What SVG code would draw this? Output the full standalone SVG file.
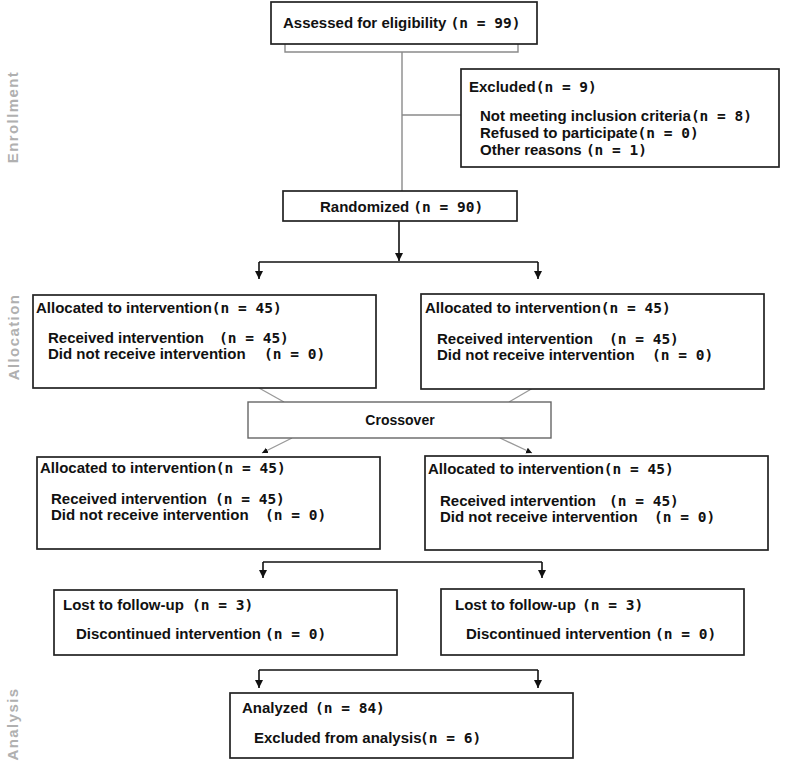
<svg xmlns="http://www.w3.org/2000/svg" width="787" height="762" viewBox="0 0 787 762">
<defs>
<style>
.box{fill:#fff;stroke:#222;stroke-width:1.7}
.xbox{fill:#fff;stroke:#666;stroke-width:1.4}
.t{font-family:"Liberation Sans",Arial,sans-serif;font-weight:bold;font-size:15px;fill:#111}
.m{font-family:"DejaVu Sans Mono","Liberation Mono",monospace;font-weight:bold;font-size:14.5px}
.side{font-family:"Liberation Sans",Arial,sans-serif;font-weight:bold;font-size:15px;fill:#b0b0b0;letter-spacing:1.4px}
.k{fill:none;stroke:#111;stroke-width:1.6}
.g{fill:none;stroke:#8a8a8a;stroke-width:1.4}
.cg{fill:none;stroke:#999;stroke-width:1.3}
</style>
<marker id="ah" markerUnits="userSpaceOnUse" markerWidth="9" markerHeight="9" refX="8" refY="4" orient="auto"><path d="M0,0 L8,4 L0,8 z" fill="#111"/></marker>
<marker id="ahs" markerUnits="userSpaceOnUse" markerWidth="8" markerHeight="8" refX="6" refY="3" orient="auto"><path d="M0,0 L6,3 L0,6 z" fill="#111"/></marker>
</defs>

<g id="side-labels">
<text class="side" transform="translate(17.5,117) rotate(-90)" text-anchor="middle">Enrollment</text>
<text class="side" transform="translate(18.5,337) rotate(-90)" text-anchor="middle">Allocation</text>
<text class="side" transform="translate(18,724) rotate(-90)" text-anchor="middle">Analysis</text>
</g>

<g id="connectors">
<path class="g" d="M285,44 V52 H518 V44"/>
<path class="g" d="M402,52 V191"/>
<path class="g" d="M402,115 H461"/>
<path class="k" d="M399,221 V261" marker-end="url(#ah)"/>
<path class="k" d="M259,262 H538"/>
<path class="k" d="M259,262 V279" marker-end="url(#ah)"/>
<path class="k" d="M538,262 V279" marker-end="url(#ah)"/>
<path class="cg" d="M259,388 L284,402"/>
<path class="cg" d="M533,388 L509,402"/>
<path class="cg" d="M292,438 L262,453" marker-end="url(#ahs)"/>
<path class="cg" d="M500,438 L532,453" marker-end="url(#ahs)"/>
<path class="k" d="M263,562 H542"/>
<path class="k" d="M263,562 V578" marker-end="url(#ah)"/>
<path class="k" d="M542,562 V578" marker-end="url(#ah)"/>
<path class="k" d="M259,670 H538"/>
<path class="k" d="M259,670 V688" marker-end="url(#ah)"/>
<path class="k" d="M538,670 V688" marker-end="url(#ah)"/>
</g>

<g id="assessed">
<rect class="box" x="271" y="2" width="266" height="42"/>
<text class="t" x="283" y="28">Assessed for eligibility <tspan class="m">(n = 99)</tspan></text>
</g>

<g id="excluded">
<rect class="box" x="461" y="69" width="318" height="98"/>
<text class="t" x="469" y="92">Excluded<tspan class="m">(n = 9)</tspan></text>
<text class="t" x="480" y="121">Not meeting inclusion criteria<tspan class="m">(n = 8)</tspan></text>
<text class="t" x="480" y="138">Refused to participate<tspan class="m">(n = 0)</tspan></text>
<text class="t" x="480" y="155">Other reasons <tspan class="m">(n = 1)</tspan></text>
</g>

<g id="randomized">
<rect class="box" x="283" y="191" width="234" height="30"/>
<text class="t" x="320" y="212">Randomized <tspan class="m">(n = 90)</tspan></text>
</g>

<g id="alloc-left">
<rect class="box" x="33" y="295" width="343" height="93"/>
<text class="t" x="36" y="313">Allocated to intervention<tspan class="m">(n = 45)</tspan></text>
<text class="t" x="48" y="343">Received intervention<tspan class="m" x="219">(n = 45)</tspan></text>
<text class="t" x="48" y="359">Did not receive intervention<tspan class="m" x="264">(n = 0)</tspan></text>
</g>

<g id="alloc-right">
<rect class="box" x="421" y="294" width="343" height="95"/>
<text class="t" x="425" y="313">Allocated to intervention<tspan class="m">(n = 45)</tspan></text>
<text class="t" x="437" y="344">Received intervention<tspan class="m" x="609">(n = 45)</tspan></text>
<text class="t" x="437" y="360">Did not receive intervention<tspan class="m" x="652">(n = 0)</tspan></text>
</g>

<g id="crossover">
<rect class="xbox" x="248" y="402" width="303" height="36"/>
<text class="t" x="400" y="425" text-anchor="middle" style="font-size:14px">Crossover</text>
</g>

<g id="alloc2-left">
<rect class="box" x="37" y="457" width="343" height="92"/>
<text class="t" x="40" y="473">Allocated to intervention<tspan class="m">(n = 45)</tspan></text>
<text class="t" x="51" y="504">Received intervention<tspan class="m" x="215">(n = 45)</tspan></text>
<text class="t" x="51" y="520">Did not receive intervention<tspan class="m" x="265">(n = 0)</tspan></text>
</g>

<g id="alloc2-right">
<rect class="box" x="425" y="456" width="343" height="94"/>
<text class="t" x="428" y="474">Allocated to intervention<tspan class="m">(n = 45)</tspan></text>
<text class="t" x="440" y="506">Received intervention<tspan class="m" x="609">(n = 45)</tspan></text>
<text class="t" x="440" y="522">Did not receive intervention<tspan class="m" x="654">(n = 0)</tspan></text>
</g>

<g id="lost-left">
<rect class="box" x="54" y="590" width="343" height="65"/>
<text class="t" x="63" y="610">Lost to follow-up<tspan class="m" x="192">(n = 3)</tspan></text>
<text class="t" x="76" y="639">Discontinued intervention<tspan class="m" x="265">(n = 0)</tspan></text>
</g>

<g id="lost-right">
<rect class="box" x="441" y="589" width="303" height="66"/>
<text class="t" x="455" y="610">Lost to follow-up<tspan class="m" x="582">(n = 3)</tspan></text>
<text class="t" x="466" y="639">Discontinued intervention<tspan class="m" x="655">(n = 0)</tspan></text>
</g>

<g id="analyzed">
<rect class="box" x="230" y="693" width="343" height="65"/>
<text class="t" x="242" y="713">Analyzed<tspan class="m" x="315">(n = 84)</tspan></text>
<text class="t" x="254" y="743">Excluded from analysis<tspan class="m" x="420">(n = 6)</tspan></text>
</g>
</svg>
